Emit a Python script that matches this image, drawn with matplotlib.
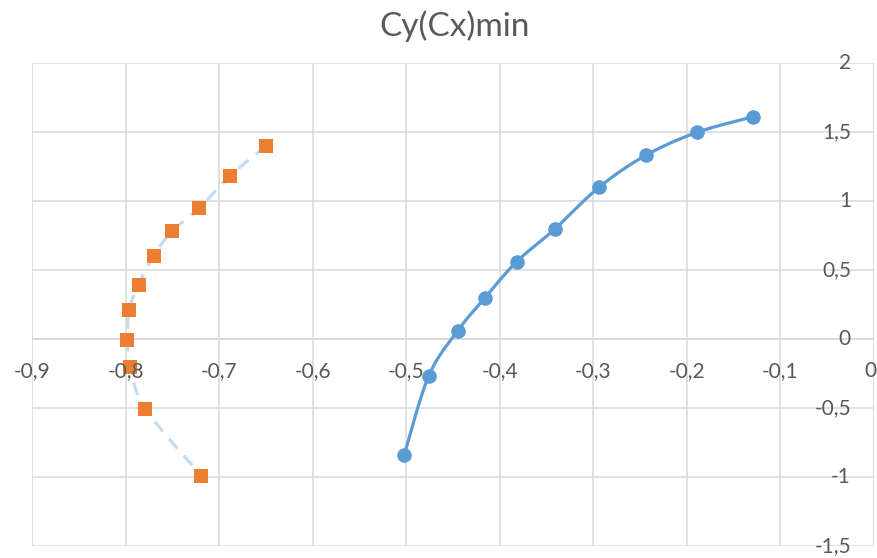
import numpy as np
import matplotlib.pyplot as plt
from matplotlib.transforms import offset_copy

# Cy vs Cx, two polar series
cx_a = [-0.129, -0.189, -0.244, -0.294, -0.341, -0.382, -0.416, -0.445, -0.476, -0.502]
cy_a = [1.613, 1.50, 1.333, 1.101, 0.80, 0.562, 0.30, 0.062, -0.266, -0.836]

cx_b = [-0.650, -0.688, -0.721, -0.750, -0.770, -0.786, -0.796, -0.798, -0.795, -0.779, -0.719]
cy_b = [1.40, 1.186, 0.954, 0.785, 0.606, 0.396, 0.214, -0.003, -0.198, -0.503, -0.988]

x_ticks = [-0.9, -0.8, -0.7, -0.6, -0.5, -0.4, -0.3, -0.2, -0.1, 0.0]
y_ticks = [-1.5, -1.0, -0.5, 0.0, 0.5, 1.0, 1.5, 2.0]

title = "Cy(Cx)min"

BLUE = "#5B9BD5"
ORANGE = "#ED7D31"
LIGHT = "#C6DBF0"
GRID = "#D9D9D9"
TEXT = "#595959"
FONT = "Lato"


def fmt(v):
    if abs(v) < 1e-9:
        return "0"
    s = f"{v:g}"
    return s.replace(".", ",")


def smooth(x, y, n=24):
    # Catmull-Rom through the points, like a spreadsheet "smoothed line"
    p = np.column_stack([x, y]).astype(float)
    p = np.vstack([p[0], p, p[-1]])
    out = []
    t = np.linspace(0, 1, n, endpoint=False)
    for i in range(1, len(p) - 2):
        p0, p1, p2, p3 = p[i - 1], p[i], p[i + 1], p[i + 2]
        c1 = p1 + (p2 - p0) / 6
        c2 = p2 - (p3 - p1) / 6
        tt = t[:, None]
        seg = ((1 - tt) ** 3) * p1 + 3 * ((1 - tt) ** 2) * tt * c1 + 3 * (1 - tt) * tt ** 2 * c2 + tt ** 3 * p2
        out.append(seg)
    out.append(p[-2][None, :])
    out = np.vstack(out)
    return out[:, 0], out[:, 1]


fig = plt.figure(figsize=(8.78, 5.58), dpi=100)
ax = fig.add_axes([32 / 878, (558 - 546.3) / 558, (874 - 32) / 878, (546.3 - 63.3) / 558])

ax.set_xlim(-0.9, 0)
ax.set_ylim(-1.5, 2)
ax.set_xticks(x_ticks)
ax.set_yticks(y_ticks)
ax.grid(True, color=GRID, linewidth=1.1)
ax.set_axisbelow(True)
ax.tick_params(length=0, labelbottom=False, labelleft=False)
for s in ax.spines.values():
    s.set_visible(False)
ax.axhline(0, color=GRID, linewidth=1.1, zorder=0.5)
ax.axvline(0, color=GRID, linewidth=1.1, zorder=0.5)

# series B: light dashed smoothed line with orange squares
sx, sy = smooth(cx_b, cy_b)
ax.plot(sx, sy, color=LIGHT, linewidth=2.3, dashes=(4, 3), zorder=2)
ax.plot(cx_b, cy_b, linestyle="none", marker="s", markersize=10,
        color=ORANGE, markeredgewidth=0, zorder=3)

# series A: solid smoothed blue line with circles
sx, sy = smooth(cx_a, cy_a)
ax.plot(sx, sy, color=BLUE, linewidth=2.3, zorder=4)
ax.plot(cx_a, cy_a, linestyle="none", marker="o", markersize=10.5,
        color=BLUE, markeredgewidth=0, zorder=5)

# tick labels sit along the crossing axes
for v in x_ticks:
    # the last label is at the figure edge, pull it in a little
    dx = -4 if v == 0 else 0
    tr = offset_copy(ax.transData, fig=fig, x=dx, y=-22, units="dots")
    ax.text(v, 0, fmt(v), transform=tr, ha="center", va="top",
            fontsize=15, color=TEXT, family=FONT, clip_on=False)

ylab_tr = offset_copy(ax.transData, fig=fig, x=-23, y=0, units="dots")
for v in y_ticks:
    ax.text(0, v, fmt(v), transform=ylab_tr, ha="right", va="center",
            fontsize=15, color=TEXT, family=FONT, clip_on=False)

fig.text(455 / 878, 1 - 36 / 558, title, ha="center", va="baseline",
         fontsize=24, color=TEXT, family=FONT)

fig.savefig("out.png", dpi=100)
